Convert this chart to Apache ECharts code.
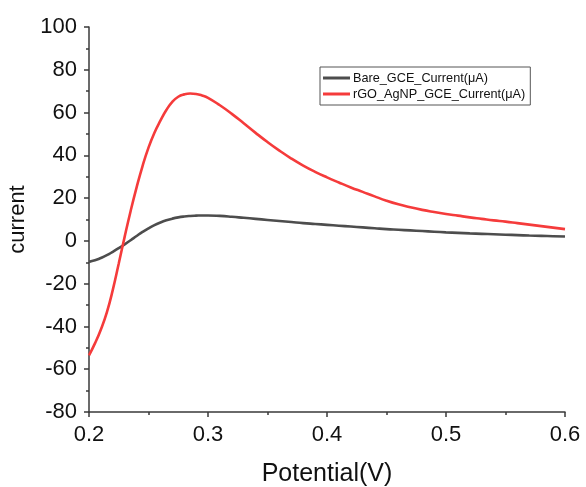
<!DOCTYPE html>
<html>
<head>
<meta charset="utf-8">
<script src="https://cdn.jsdelivr.net/npm/echarts@6/dist/echarts.min.js"></script>
<style>html,body{margin:0;padding:0;background:#fff}#c{width:586px;height:487px}</style>
</head>
<body>
<div id="c"></div>
<script>
const potential = [0.200,0.205,0.210,0.215,0.220,0.225,0.230,0.235,0.240,0.245,0.250,0.255,0.260,0.265,0.270,0.275,0.280,0.285,0.290,0.295,0.300,
  0.31,0.32,0.33,0.34,0.35,0.36,0.37,0.38,0.39,0.40,0.41,0.42,0.43,0.44,0.45,0.46,0.47,0.48,0.49,0.50,0.51,0.52,0.53,0.54,0.55,0.56,0.57,0.58,0.59,0.60];
const bareCurrent = [-9.8,-9.1,-8.0,-6.7,-5.1,-3.4,-1.6,0.3,2.3,4.2,5.9,7.4,8.6,9.6,10.4,11.0,11.4,11.65,11.8,11.9,11.9,
  11.7,11.3,10.8,10.3,9.8,9.3,8.8,8.3,7.9,7.5,7.1,6.7,6.3,5.9,5.5,5.2,4.9,4.6,4.3,4.0,3.75,3.5,3.3,3.1,2.9,2.7,2.5,2.35,2.2,2.05];
const rgoCurrent = [-53.5,-47.9,-41.4,-33.4,-22.9,-10.6,2.0,14.0,25.0,35.0,43.6,50.6,56.2,61.2,65.0,67.4,68.5,68.9,68.7,68.0,66.9,
  63.4,59.4,55.0,50.5,46.2,42.2,38.5,35.2,32.3,29.7,27.3,25.0,22.9,20.8,18.8,17.1,15.7,14.5,13.5,12.6,11.8,11.0,10.3,9.6,9.0,8.3,7.6,6.9,6.2,5.5];
const seriesNames = ['Bare_GCE_Current(μA)','rGO_AgNP_GCE_Current(μA)'];
const seriesColors = ['#4d4d4d','#f53b3b'];

const chart = echarts.init(document.getElementById('c'));
const font = 'Liberation Sans, Arial, sans-serif';
const axisCol = '#3a3a3a';
chart.setOption({
  animation:false,
  backgroundColor:'#fff',
  grid:{left:89,right:21,top:27,bottom:75,containLabel:false,outerBoundsMode:'none'},
  legend:{
    orient:'vertical',left:320,top:67,
    data:seriesNames,
    icon:'rect',itemWidth:27,itemHeight:3,itemGap:2,
    padding:[4,5,4,3],
    borderColor:'#555',borderWidth:1,
    textStyle:{fontFamily:font,fontSize:12.7,color:'#111',lineHeight:14,padding:[0,0,0,-2]}
  },
  xAxis:{
    type:'value',min:0.2,max:0.6,interval:0.1,
    name:'Potential(V)',nameLocation:'middle',nameGap:50,
    nameTextStyle:{fontFamily:font,fontSize:25,color:'#111'},
    axisLine:{show:true,onZero:false,lineStyle:{color:axisCol,width:1.5}},
    axisTick:{show:true,inside:false,length:5,lineStyle:{color:axisCol,width:1.5}},
    minorTick:{show:true,splitNumber:2,length:3,lineStyle:{color:axisCol,width:1.5}},
    splitLine:{show:false},
    axisLabel:{fontFamily:font,fontSize:22,color:'#111',margin:12,formatter:v=>v.toFixed(1)}
  },
  yAxis:{
    type:'value',min:-80,max:100,interval:20,
    name:'current',nameLocation:'middle',nameGap:57,
    nameTextStyle:{fontFamily:font,fontSize:22,color:'#111'},
    axisLine:{show:true,onZero:false,lineStyle:{color:axisCol,width:1.5}},
    axisTick:{show:true,inside:false,length:5,lineStyle:{color:axisCol,width:1.5}},
    minorTick:{show:true,splitNumber:2,length:3,lineStyle:{color:axisCol,width:1.5}},
    splitLine:{show:false},
    axisLabel:{fontFamily:font,fontSize:22,color:'#111',margin:12}
  },
  series:[
    {name:seriesNames[0],type:'line',smooth:0.5,showSymbol:false,
     data:potential.map((x,i)=>[x,bareCurrent[i]]),
     itemStyle:{color:seriesColors[0]},lineStyle:{color:seriesColors[0],width:2.6}},
    {name:seriesNames[1],type:'line',smooth:0.5,showSymbol:false,
     data:potential.map((x,i)=>[x,rgoCurrent[i]]),
     itemStyle:{color:seriesColors[1]},lineStyle:{color:seriesColors[1],width:2.6}}
  ]
});
</script>
</body>
</html>
